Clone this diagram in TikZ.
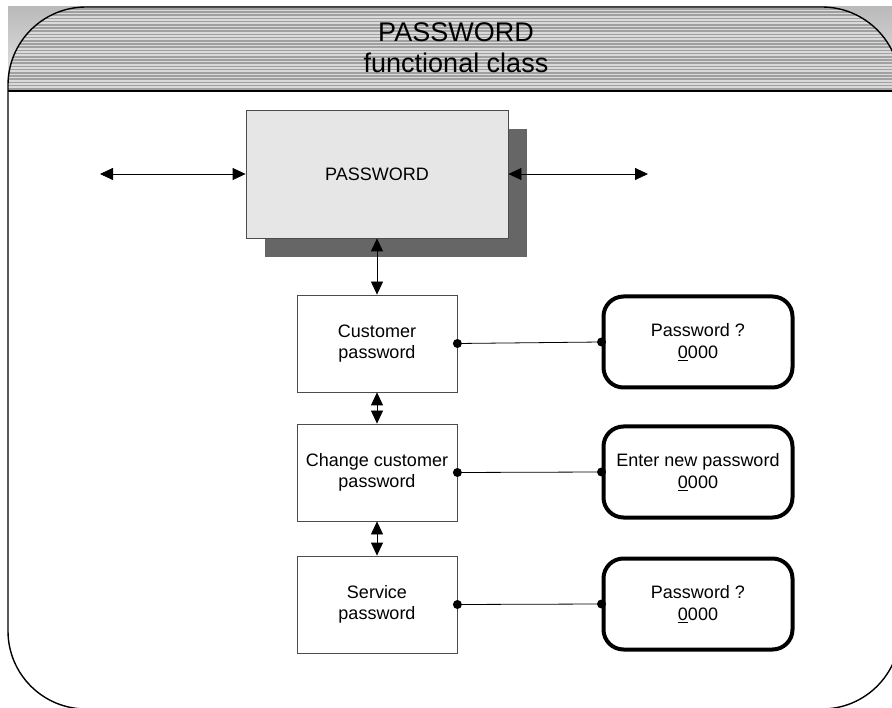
\documentclass[tikz,border=0pt]{standalone}
\usepackage{fontspec}
\setmainfont{Liberation Sans}
\usetikzlibrary{arrows.meta}
\definecolor{stripedark}{HTML}{A0A0A0}
\definecolor{stripelight}{HTML}{DADADA}
\definecolor{boxfill}{HTML}{E6E6E6}
\definecolor{shadowgray}{HTML}{666666}
\tikzset{
  frameline/.style={draw=black, line width=1.4pt},
  funcbox/.style={draw=black!70, line width=0.8pt, minimum width=160pt, minimum height=97pt,
    inner sep=0pt, align=center, font=\fontsize{18}{21.5}\selectfont},
  mainbox/.style={draw=black!70, line width=0.8pt, fill=boxfill, minimum width=262pt,
    minimum height=128pt, inner sep=0pt, font=\fontsize{18}{21.5}\selectfont},
  shadowbox/.style={fill=shadowgray, minimum width=262pt, minimum height=128pt, inner sep=0pt},
  screenbox/.style={draw=black, line width=4pt, rounded corners=20pt, minimum width=189pt,
    minimum height=91pt, inner sep=0pt, align=center, font=\fontsize{18}{21.5}\selectfont},
  dbl/.style={line width=0.8pt, {Triangle[length=13pt,width=12pt]}-{Triangle[length=13pt,width=12pt]}},
  conn/.style={line width=0.8pt},
  title/.style={anchor=base, inner sep=0pt, font=\fontsize{27}{31}\selectfont}
}
\begin{document}
\begin{tikzpicture}[x=1pt,y=-1pt]
\useasboundingbox (0,0) rectangle (892,708);
% header background outside the rounded corners
\shade[top color=black!27, bottom color=black!9] (8,7) rectangle (892,91);
% striped header inside the frame
\begin{scope}
  \clip (8,7) rectangle (892,91);
  \clip[rounded corners=78pt] (8,7) rectangle (900,709);
  \fill[stripelight] (8,7) rectangle (892,91);
  \foreach \i in {0,...,26} {
    \fill[stripedark] (8,{8+\i*3.2}) rectangle (892,{9.6+\i*3.2});
  }
\end{scope}
% frame
\draw[frameline, rounded corners=78pt] (8,7) rectangle (900,709);
\draw[line width=2.4pt] (8,91) -- (892,91);
% header titles
\node[title] (t1) at (456,41.7) {PASSWORD};
\node[title] (t2) at (456,73) {functional class};
% main box with shadow
\node[shadowbox] (shadow) at (396,193) {};
\node[mainbox] (main) at (377,174) {PASSWORD};
\coordinate (lend) at (100,174);
\coordinate (rend) at (648,174);
\draw[dbl] (lend) -- (main.west);
\draw[dbl] (main.east) -- (rend);
% function boxes
\node[funcbox] (cust) at (377,343.5) {Customer\\password};
\node[funcbox] (chg) at (377,472.5) {Change customer\\password};
\node[funcbox] (serv) at (377,604.5) {Service\\password};
\draw[dbl] (main.south) -- (cust.north);
\draw[dbl] (cust.south) -- (chg.north);
\draw[dbl] (chg.south) -- (serv.north);
% screens
\node[screenbox] (s1) at (698,342) {Password ?\\\underline{0}000};
\node[screenbox] (s2) at (698,472) {Enter new password\\\underline{0}000};
\node[screenbox] (s3) at (698,604) {Password ?\\\underline{0}000};
\foreach \a/\b in {cust/s1, chg/s2, serv/s3} {
  \draw[conn] (\a.east) -- (\b.west);
  \fill (\a.east) circle (4.5pt);
  \fill (\b.west) circle (4.5pt);
}
\end{tikzpicture}
\end{document}
